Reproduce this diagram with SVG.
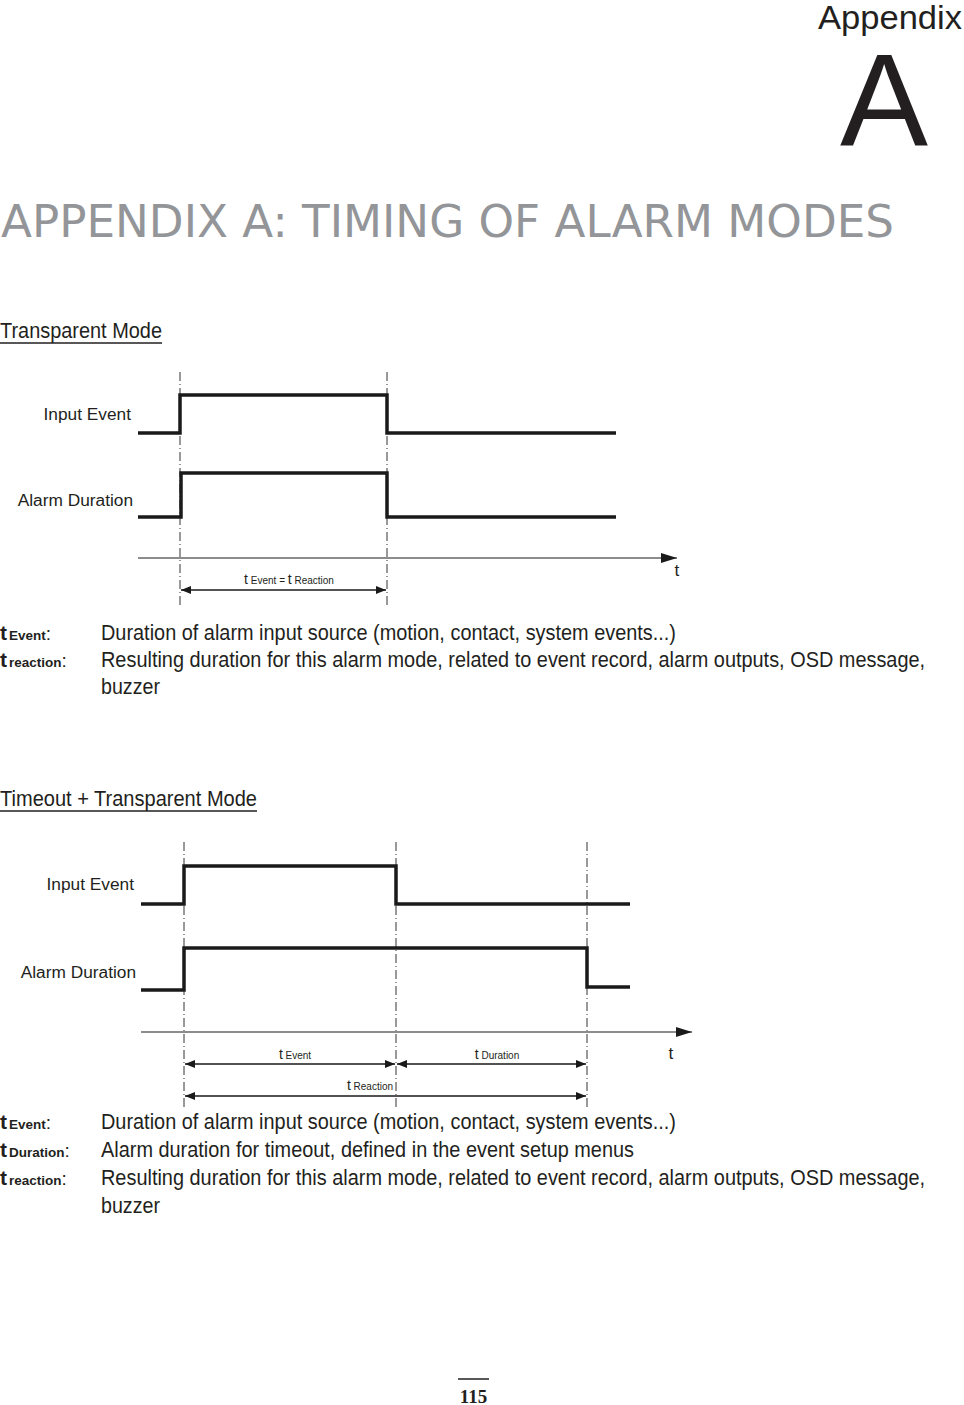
<svg xmlns="http://www.w3.org/2000/svg" width="964" height="1405" viewBox="0 0 964 1405">
<style>
.wave{fill:none;stroke:#1a1a1a;stroke-width:3.5;stroke-linejoin:miter}
.guide{stroke:#333;stroke-width:1;stroke-dasharray:9 3 1 3}
.axis{stroke:#1a1a1a;stroke-width:1.2}
.dim{stroke:#1a1a1a;stroke-width:1.3}
.lbl{font-family:"Liberation Sans",Arial,sans-serif;font-size:17.3px;fill:#231f20}
.sm{font-family:"Liberation Sans",Arial,sans-serif;fill:#231f20}
.body{font-family:"Liberation Sans",Arial,sans-serif;font-size:22.5px;fill:#231f20}
.key{font-family:"Liberation Sans",Arial,sans-serif;font-weight:bold;fill:#231f20}
</style>
<defs>
<marker id="ah" viewBox="0 0 10 10" refX="10" refY="5" markerWidth="10" markerHeight="10" markerUnits="userSpaceOnUse" orient="auto-start-reverse"><path d="M0,1 L10,5 L0,9 Z" fill="#1a1a1a"/></marker>
<marker id="axh" viewBox="0 0 16 10" refX="16" refY="5" markerWidth="16" markerHeight="10" markerUnits="userSpaceOnUse" orient="auto"><path d="M0,0 L16,5 L0,10 Z" fill="#1a1a1a"/></marker>
</defs>

<g id="header">
<text x="962" y="29" text-anchor="end" style="font-family:'Liberation Sans',Arial,sans-serif;font-size:33px;fill:#231f20" textLength="144" lengthAdjust="spacingAndGlyphs">Appendix</text>
<text x="884" y="146" text-anchor="middle" style="font-family:'Liberation Sans',Arial,sans-serif;font-size:132px;fill:#231f20">A</text>
<text x="1" y="237" style="font-family:'DejaVu Sans',sans-serif;font-size:44px;fill:#939598" textLength="893" lengthAdjust="spacingAndGlyphs">APPENDIX A: TIMING OF ALARM MODES</text>
</g>

<g id="title1">
<text x="0" y="338" class="body" textLength="162" lengthAdjust="spacingAndGlyphs">Transparent Mode</text>
<line x1="0" y1="343" x2="162" y2="343" stroke="#231f20" stroke-width="1.3"/>
</g>

<g id="diagram1">
<g id="d1-guides">
<line class="guide" x1="180" y1="372" x2="180" y2="608"/>
<line class="guide" x1="387" y1="372" x2="387" y2="608"/>
</g>
<g id="d1-input">
<text class="lbl" x="131" y="420" text-anchor="end">Input Event</text>
<polyline class="wave" points="138,433 180,433 180,395 387,395 387,433 616,433"/>
</g>
<g id="d1-alarm">
<text class="lbl" x="133" y="506" text-anchor="end">Alarm Duration</text>
<polyline class="wave" points="138,517 181,517 181,473 387,473 387,517 616,517"/>
</g>
<g id="d1-axis">
<line class="axis" x1="138" y1="558" x2="677" y2="558" marker-end="url(#axh)"/>
<text class="lbl" x="677" y="576" text-anchor="middle" font-size="18">t</text>
</g>
<g id="d1-dim">
<line class="dim" x1="181" y1="590" x2="386" y2="590" marker-start="url(#ah)" marker-end="url(#ah)"/>
<text class="sm" x="289" y="584" text-anchor="middle"><tspan font-size="14">t</tspan><tspan font-size="10"> Event = </tspan><tspan font-size="14">t</tspan><tspan font-size="10"> Reaction</tspan></text>
</g>
</g>

<g id="legend1">
<text class="key" x="0" y="640"><tspan font-size="21">t</tspan><tspan font-size="13.5" dx="2">Event</tspan><tspan font-weight="normal" font-size="19">:</tspan></text>
<text class="body" x="101" y="640" textLength="575" lengthAdjust="spacingAndGlyphs">Duration of alarm input source (motion, contact, system events...)</text>
<text class="key" x="0" y="667"><tspan font-size="21">t</tspan><tspan font-size="13.5" dx="2">reaction</tspan><tspan font-weight="normal" font-size="19">:</tspan></text>
<text class="body" transform="translate(101,667) scale(0.82,1)" x="0" y="0" textLength="1005" lengthAdjust="spacingAndGlyphs">Resulting duration for this alarm mode, related to event record, alarm outputs, OSD message,</text>
<text class="body" x="101" y="694" textLength="59" lengthAdjust="spacingAndGlyphs">buzzer</text>
</g>

<g id="title2">
<text x="0" y="806" class="body" textLength="257" lengthAdjust="spacingAndGlyphs">Timeout + Transparent Mode</text>
<line x1="0" y1="811" x2="257" y2="811" stroke="#231f20" stroke-width="1.3"/>
</g>

<g id="diagram2">
<g id="d2-guides">
<line class="guide" x1="184" y1="842" x2="184" y2="1110"/>
<line class="guide" x1="396" y1="842" x2="396" y2="1110"/>
<line class="guide" x1="587" y1="842" x2="587" y2="1110"/>
</g>
<g id="d2-input">
<text class="lbl" x="134" y="890" text-anchor="end">Input Event</text>
<polyline class="wave" points="141,904 184,904 184,866 396,866 396,904 630,904"/>
</g>
<g id="d2-alarm">
<text class="lbl" x="136" y="978" text-anchor="end">Alarm Duration</text>
<polyline class="wave" points="141,990 184,990 184,948 587,948 587,987 630,987"/>
</g>
<g id="d2-axis">
<line class="axis" x1="141" y1="1032" x2="692" y2="1032" marker-end="url(#axh)"/>
<text class="lbl" x="671" y="1059" text-anchor="middle" font-size="18">t</text>
</g>
<g id="d2-dim">
<line class="dim" x1="185" y1="1064" x2="395" y2="1064" marker-start="url(#ah)" marker-end="url(#ah)"/>
<line class="dim" x1="397" y1="1064" x2="586" y2="1064" marker-start="url(#ah)" marker-end="url(#ah)"/>
<line class="dim" x1="185" y1="1096" x2="586" y2="1096" stroke-width="2" marker-start="url(#ah)" marker-end="url(#ah)"/>
<text class="sm" x="295" y="1059" text-anchor="middle"><tspan font-size="14">t</tspan><tspan font-size="10"> Event</tspan></text>
<text class="sm" x="497" y="1059" text-anchor="middle"><tspan font-size="14">t</tspan><tspan font-size="10"> Duration</tspan></text>
<text class="sm" x="370" y="1090" text-anchor="middle"><tspan font-size="14">t</tspan><tspan font-size="10"> Reaction</tspan></text>
</g>
</g>

<g id="legend2">
<text class="key" x="0" y="1129"><tspan font-size="21">t</tspan><tspan font-size="13.5" dx="2">Event</tspan><tspan font-weight="normal" font-size="19">:</tspan></text>
<text class="body" x="101" y="1129" textLength="575" lengthAdjust="spacingAndGlyphs">Duration of alarm input source (motion, contact, system events...)</text>
<text class="key" x="0" y="1157"><tspan font-size="21">t</tspan><tspan font-size="13.5" dx="2">Duration</tspan><tspan font-weight="normal" font-size="19">:</tspan></text>
<text class="body" x="101" y="1157" textLength="533" lengthAdjust="spacingAndGlyphs">Alarm duration for timeout, defined in the event setup menus</text>
<text class="key" x="0" y="1185"><tspan font-size="21">t</tspan><tspan font-size="13.5" dx="2">reaction</tspan><tspan font-weight="normal" font-size="19">:</tspan></text>
<text class="body" transform="translate(101,1185) scale(0.82,1)" x="0" y="0" textLength="1005" lengthAdjust="spacingAndGlyphs">Resulting duration for this alarm mode, related to event record, alarm outputs, OSD message,</text>
<text class="body" x="101" y="1213" textLength="59" lengthAdjust="spacingAndGlyphs">buzzer</text>
</g>

<g id="footer">
<line x1="458" y1="1379" x2="489" y2="1379" stroke="#231f20" stroke-width="1.5"/>
<text x="473.5" y="1403" text-anchor="middle" style="font-family:'Liberation Serif','Times New Roman',serif;font-weight:bold;font-size:19px;fill:#231f20">115</text>
</g>
</svg>
